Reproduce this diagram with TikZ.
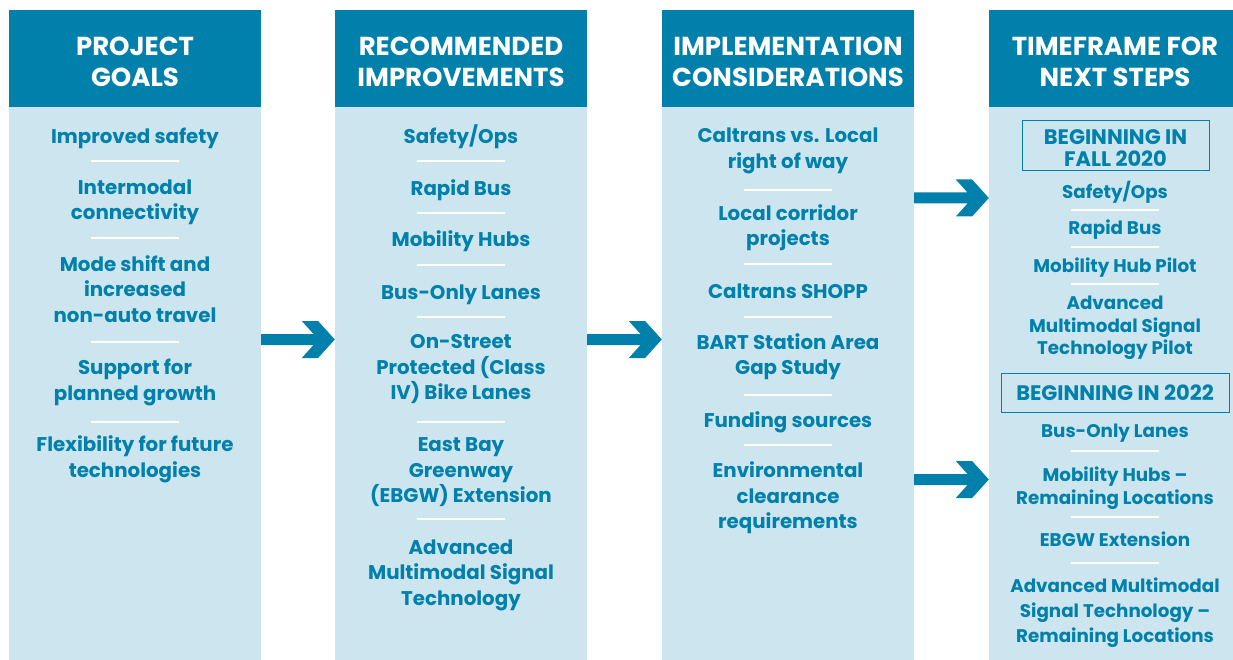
\documentclass[tikz,border=0pt]{standalone}
\usepackage{fontspec}
\setmainfont{Poppins}
\usetikzlibrary{calc}

\definecolor{hdrblue}{RGB}{0,128,171}
\definecolor{paleblue}{RGB}{204,229,238}

\tikzset{
  panelhead/.style={fill=hdrblue, draw=none, inner sep=0pt,
    minimum width=252pt, minimum height=97pt},
  panelbody/.style={fill=paleblue, draw=none, inner sep=0pt,
    minimum width=252pt, minimum height=553pt},
  headtext/.style={text=white, align=center, inner sep=0pt,
    font=\fontsize{26}{31}\selectfont\bfseries},
  item/.style={text=hdrblue, align=center, inner sep=0pt, yshift=-3.3pt,
    font=\fontsize{19.8}{25.5}\selectfont\bfseries,
    execute at begin node=\strut, execute at end node=\strut},
  itemsm/.style={item, font=\fontsize{18.3}{22.5}\selectfont\bfseries},
  stagebox/.style={draw=hdrblue, line width=1pt, text=hdrblue, align=center,
    inner sep=0pt, font=\fontsize{21}{22}\selectfont\bfseries},
  divider/.style={draw=white, line width=1.3pt},
  chev/.style={fill=hdrblue, draw=none, to path={
    let \p1=(\tikztostart), \p2=(\tikztotarget) in
      (\x1,\y1-5.5pt) -- (\x2-21.3pt,\y1-5.5pt) -- (\x2-33pt,\y1-18.5pt)
      -- (\x2-16.7pt,\y1-18.5pt) -- (\x2,\y1) -- (\x2-16.7pt,\y1+18.5pt)
      -- (\x2-33pt,\y1+18.5pt) -- (\x2-21.3pt,\y1+5.5pt)
      -- (\x1,\y1+5.5pt) -- cycle}}
}

% short white rule between two entries of a column
\newcommand\divline[2]{\draw[divider] (#1-44,#2) -- (#1+44,#2);}

\begin{document}
\begin{tikzpicture}[x=1pt, y=-1pt]
\useasboundingbox (0,0) rectangle (1233,660);

% column panels
\node[panelbody] (b1) at (135,383.5) {};
\node[panelbody] (b2) at (461,383.5) {};
\node[panelbody] (b3) at (788,383.5) {};
\node[panelbody] (b4) at (1115,383.5) {};
\node[panelhead] (h1) at (135,58.5) {};
\node[panelhead] (h2) at (461,58.5) {};
\node[panelhead] (h3) at (788,58.5) {};
\node[panelhead] (h4) at (1115,58.5) {};

% column titles
\node[headtext] (t1) at (135,61.5) {PROJECT\\GOALS};
\node[headtext] (t2) at (461,61.5) {RECOMMENDED\\IMPROVEMENTS};
\node[headtext] (t3) at (788,61.5) {IMPLEMENTATION\\CONSIDERATIONS};
\node[headtext] (t4) at (1115,61.5) {TIMEFRAME FOR\\NEXT STEPS};

% project goals
\node[item] (g1) at (135,135) {Improved safety};
\node[item] (g2) at (135,200) {Intermodal\\connectivity};
\node[item] (g3) at (135,289.5) {Mode shift and\\increased\\non-auto travel};
\node[item] (g4) at (135,380.5) {Support for\\planned growth};
\node[item] (g5) at (135,457) {Flexibility for future\\technologies};
\divline{135}{161}\divline{135}{238}\divline{135}{342}\divline{135}{422}

% recommended improvements
\node[item] (r1) at (461,135) {Safety/Ops};
\node[item] (r2) at (461,187) {Rapid Bus};
\node[item] (r3) at (461,238) {Mobility Hubs};
\node[item] (r4) at (461,291) {Bus-Only Lanes};
\node[item] (r5) at (461,367.5) {On-Street\\Protected (Class\\IV) Bike Lanes};
\node[item] (r6) at (461,471) {East Bay\\Greenway\\(EBGW) Extension};
\node[item] (r7) at (461,573) {Advanced\\Multimodal Signal\\Technology};
\divline{461}{161}\divline{461}{213}\divline{461}{265}
\divline{461}{317}\divline{461}{422}\divline{461}{519}

% implementation considerations
\node[item] (c1) at (788,148.5) {Caltrans vs. Local\\right of way};
\node[item] (c2) at (788,225.5) {Local corridor\\projects};
\node[item] (c3) at (788,290) {Caltrans SHOPP};
\node[item] (c4) at (788,354.5) {BART Station Area\\Gap Study};
\node[item] (c5) at (788,419) {Funding sources};
\node[item] (c6) at (788,496) {Environmental\\clearance\\requirements};
\divline{788}{190}\divline{788}{264}\divline{788}{317}
\divline{788}{395}\divline{788}{445}

% timeframe for next steps
\node[stagebox, minimum width=187pt, minimum height=50pt] (s1) at (1115.5,146)
  {\rule{0pt}{19pt}BEGINNING IN\\FALL 2020};
\node[itemsm] (n1) at (1115,190) {Safety/Ops};
\node[itemsm] (n2) at (1115,227) {Rapid Bus};
\node[itemsm] (n3) at (1115,265) {Mobility Hub Pilot};
\node[itemsm] (n4) at (1115,325.5) {Advanced\\Multimodal Signal\\Technology Pilot};
\node[stagebox, minimum width=228pt, minimum height=39pt] (s2) at (1115,392.5)
  {BEGINNING IN 2022};
\node[itemsm] (n5) at (1115,430) {Bus-Only Lanes};
\node[itemsm] (n6) at (1115,485.5) {Mobility Hubs \textendash\\Remaining Locations};
\node[itemsm] (n7) at (1115,539) {EBGW Extension};
\node[itemsm, font=\fontsize{18.3}{25}\selectfont\bfseries] (n8) at (1115,611)
  {Advanced Multimodal\\Signal Technology \textendash\\Remaining Locations};
\divline{1115}{210}\divline{1115}{247}\divline{1115}{284}
\divline{1115}{451}\divline{1115}{517}\divline{1115}{563}

% flow arrows between the panels
\coordinate (rowA) at (0,339.5);
\coordinate (rowB) at (0,198);
\coordinate (rowC) at (0,479.5);
\path[chev] (b1.east |- rowA) to (b2.west |- rowA);
\path[chev] (b2.east |- rowA) to (b3.west |- rowA);
\path[chev] (b3.east |- rowB) to (b4.west |- rowB);
\path[chev] (b3.east |- rowC) to (b4.west |- rowC);
\end{tikzpicture}
\end{document}
